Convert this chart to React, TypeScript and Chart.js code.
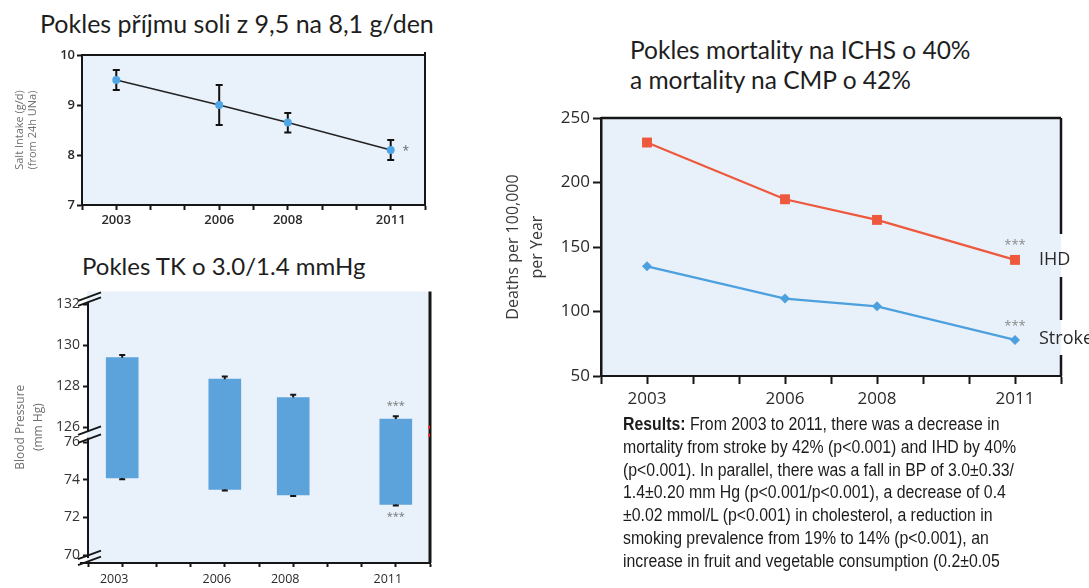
import React, { useEffect, useRef } from 'react';
import { Chart, registerables, LinearScale } from 'chart.js';

Chart.register(...registerables);

// ---------------- data ----------------
const years = [2003, 2006, 2008, 2011];
const yearTickValues = [2002, 2003, 2004, 2005, 2006, 2007, 2008, 2009, 2010, 2011, 2012];
const labelledYears = [2003, 2006, 2008, 2011];

// Salt intake (g/d)
const saltMean = [9.5, 9.0, 8.65, 8.1];
const saltUpper = [9.7, 9.4, 8.84, 8.3];
const saltLower = [9.3, 8.6, 8.45, 7.9];
const saltTicks = [7, 8, 9, 10];

// Blood pressure (mm Hg)
const systolic = [129.4, 128.35, 127.45, 126.4];
const systolicErr = [0.13, 0.13, 0.14, 0.14];
const diastolic = [74.1, 73.5, 73.2, 72.7];
const diastolicErr = [0.06, 0.06, 0.06, 0.06];
const bpTicks = [70, 72, 74, 76, 126, 128, 130, 132];

// Mortality (deaths per 100,000 per year)
const ihd = [231, 187, 171, 140];
const stroke = [135, 110, 104, 78];
const mortalityTicks = [50, 100, 150, 200, 250];

// ---------------- styles ----------------
const AXIS = '#161616';
const BG = '#e9f1fb';
const BAR_BLUE = '#5ba3da';
const DOT_BLUE = '#4ea6e6';
const IHD_RED = '#ee583c';
const STROKE_BLUE = '#4ba0dd';
const TICK_FONT = "'Open Sans', 'DejaVu Sans', sans-serif";

// ---------------- broken axis for blood pressure ----------------
const LOW_MIN = 70;
const LOW_MAX = 76;
const HIGH_MIN = 126;
const GAP = 0.8;
const HIGH_FACTOR = 1.09;
const toVirtual = (v: number) =>
  v <= (LOW_MAX + HIGH_MIN) / 2 ? v - LOW_MIN : LOW_MAX - LOW_MIN + GAP + (v - HIGH_MIN) * HIGH_FACTOR;

class BrokenLinearScale extends LinearScale {
  static id = 'brokenLinear';
  static defaults = {};
  buildTicks() {
    return bpTicks.map((value) => ({ value }));
  }
  getPixelForValue(value: number) {
    return super.getPixelForValue(toVirtual(value));
  }
}
Chart.register(BrokenLinearScale as any);

function yearAxis(fontSize: number, tickLen: number, pad: number, height: number, labelOffset = 0, weight: any = 'normal') {
  return {
    type: 'linear',
    min: 2002,
    max: 2012,
    offset: false,
    afterBuildTicks: (s: any) => {
      s.ticks = yearTickValues.map((value) => ({ value }));
    },
    afterFit: (s: any) => {
      s.height = height;
    },
    ticks: {
      autoSkip: false,
      maxRotation: 0,
      padding: pad,
      labelOffset,
      color: '#2a2a2a',
      font: { family: TICK_FONT, size: fontSize, weight },
      callback: (v: any) => (labelledYears.includes(Number(v)) ? String(v) : ''),
    },
    grid: {
      offset: false,
      drawOnChartArea: false,
      drawTicks: true,
      tickLength: tickLen,
      tickWidth: 2,
      tickColor: AXIS,
    },
    border: { display: true, color: AXIS, width: 2 },
  };
}

// ---------------- chart configs ----------------
function saltConfig(): any {
  const plugin = {
    id: 'saltDecor',
    beforeDraw(chart: any) {
      const { ctx, chartArea: a } = chart;
      ctx.save();
      ctx.fillStyle = BG;
      ctx.fillRect(a.left, a.top, a.right - a.left, a.bottom - a.top);
      ctx.restore();
    },
    beforeDatasetsDraw(chart: any) {
      const { ctx } = chart;
      const { x, y } = chart.scales;
      ctx.save();
      ctx.strokeStyle = '#111';
      ctx.lineWidth = 2;
      years.forEach((yr, i) => {
        const px = x.getPixelForValue(yr);
        const t = y.getPixelForValue(saltUpper[i]);
        const b = y.getPixelForValue(saltLower[i]);
        ctx.beginPath();
        ctx.moveTo(px, t);
        ctx.lineTo(px, b);
        ctx.moveTo(px - 3.5, t);
        ctx.lineTo(px + 3.5, t);
        ctx.moveTo(px - 3.5, b);
        ctx.lineTo(px + 3.5, b);
        ctx.stroke();
      });
      ctx.restore();
    },
    afterDraw(chart: any) {
      const { ctx, chartArea: a } = chart;
      const { x, y } = chart.scales;
      ctx.save();
      ctx.strokeStyle = AXIS;
      ctx.lineWidth = 2;
      ctx.beginPath();
      ctx.moveTo(a.left, a.top);
      ctx.lineTo(a.right, a.top);
      ctx.moveTo(a.right, a.top - 3);
      ctx.lineTo(a.right, a.bottom);
      ctx.stroke();
      ctx.fillStyle = '#666';
      ctx.font = `12px ${TICK_FONT}`;
      ctx.textAlign = 'center';
      ctx.textBaseline = 'middle';
      ctx.fillText('*', x.getPixelForValue(years[3]) + 15, y.getPixelForValue(saltMean[3]) + 2);
      ctx.restore();
    },
  };
  return {
    type: 'line',
    data: {
      datasets: [
        {
          data: years.map((yr, i) => ({ x: yr, y: saltMean[i] })),
          borderColor: '#222',
          borderWidth: 1.5,
          pointRadius: 4,
          pointBackgroundColor: DOT_BLUE,
          pointBorderWidth: 0,
        },
      ],
    },
    options: {
      responsive: false,
      animation: false,
      events: [],
      layout: { padding: { top: 15, right: 15, left: 0, bottom: 0 } },
      plugins: { legend: { display: false }, tooltip: { enabled: false } },
      scales: {
        x: yearAxis(13, 5, 2, 35, 0, '600'),
        y: {
          type: 'linear',
          min: 7,
          max: 10,
          afterBuildTicks: (s: any) => {
            s.ticks = saltTicks.map((value) => ({ value }));
          },
          afterFit: (s: any) => {
            s.width = 82;
          },
          ticks: {
            padding: 2,
            color: '#2a2a2a',
            font: { family: TICK_FONT, size: 13, weight: '600' },
            callback: (v: any) => String(v),
          },
          grid: { drawOnChartArea: false, drawTicks: true, tickLength: 5, tickWidth: 2, tickColor: AXIS },
          border: { display: true, color: AXIS, width: 2 },
          title: {
            display: true,
            text: ['Salt Intake (g/d)', '(from 24h UNa)'],
            color: '#707070',
            font: { family: TICK_FONT, size: 11, lineHeight: 1.15 },
            padding: { top: 14, bottom: 0 },
          },
        },
      },
    },
    plugins: [plugin],
  };
}

function bpConfig(): any {
  const plugin = {
    id: 'bpDecor',
    beforeDraw(chart: any) {
      const { ctx, chartArea: a } = chart;
      ctx.save();
      ctx.fillStyle = BG;
      ctx.fillRect(a.left - 1, a.top, a.right - a.left + 1, a.bottom - a.top);
      ctx.restore();
    },
    afterDatasetsDraw(chart: any) {
      const { ctx } = chart;
      const { x, y } = chart.scales;
      ctx.save();
      ctx.strokeStyle = '#151515';
      ctx.lineWidth = 2;
      years.forEach((yr, i) => {
        const px = x.getPixelForValue(yr);
        const st = y.getPixelForValue(systolic[i]);
        const se = y.getPixelForValue(systolic[i] + systolicErr[i]);
        const dt = y.getPixelForValue(diastolic[i]);
        const de = y.getPixelForValue(diastolic[i] - diastolicErr[i]);
        ctx.beginPath();
        ctx.moveTo(px, st);
        ctx.lineTo(px, se);
        ctx.moveTo(px - 3, se);
        ctx.lineTo(px + 3, se);
        ctx.moveTo(px, dt);
        ctx.lineTo(px, de);
        ctx.moveTo(px - 3, de);
        ctx.lineTo(px + 3, de);
        ctx.stroke();
      });
      // significance stars for 2011
      const last = years.length - 1;
      const pl = x.getPixelForValue(years[last]);
      ctx.fillStyle = '#777';
      ctx.font = `11px ${TICK_FONT}`;
      ctx.textAlign = 'center';
      ctx.textBaseline = 'middle';
      ctx.fillText('***', pl, y.getPixelForValue(systolic[last] + systolicErr[last]) - 10);
      ctx.fillText('***', pl, y.getPixelForValue(diastolic[last] - diastolicErr[last]) + 11);
      ctx.restore();
    },
    afterDraw(chart: any) {
      const { ctx, chartArea: a } = chart;
      const { y } = chart.scales;
      const ax = a.left;
      const topBreak = y.getPixelForValue(bpTicks[bpTicks.length - 1]) - 5;
      const midBreak = (y.getPixelForValue(HIGH_MIN) + y.getPixelForValue(LOW_MAX)) / 2;
      const botBreak = y.getPixelForValue(LOW_MIN) + 3;
      ctx.save();
      ctx.strokeStyle = AXIS;
      ctx.lineWidth = 2;
      ctx.beginPath();
      // broken y axis
      ctx.moveTo(ax, topBreak + 3);
      ctx.lineTo(ax, midBreak - 3);
      ctx.moveTo(ax, midBreak + 3);
      ctx.lineTo(ax, botBreak);
      // x axis extension to the left
      ctx.moveTo(ax - 8, a.bottom);
      ctx.lineTo(ax, a.bottom);
      ctx.stroke();
      // break marks
      ctx.lineWidth = 1.8;
      const marks: [number, number][] = [
        [topBreak - 2.5, topBreak + 2.5],
        [midBreak - 4, midBreak + 4],
        [botBreak - 3, botBreak + 3],
      ];
      ctx.beginPath();
      marks.forEach(([m1, m2]) => {
        [m1, m2].forEach((m) => {
          ctx.moveTo(ax - 10, m + 4);
          ctx.lineTo(ax + 13, m - 4.5);
        });
      });
      ctx.stroke();
      // right frame line
      ctx.lineWidth = 3;
      ctx.beginPath();
      ctx.moveTo(a.right, a.top);
      ctx.lineTo(a.right, a.bottom);
      ctx.stroke();
      ctx.strokeStyle = '#e83030';
      ctx.lineWidth = 2;
      ctx.beginPath();
      ctx.moveTo(a.right - 1, midBreak - 9);
      ctx.lineTo(a.right - 1, midBreak - 6);
      ctx.moveTo(a.right - 1, midBreak - 1);
      ctx.lineTo(a.right - 1, midBreak + 2);
      ctx.stroke();
      ctx.restore();
    },
  };
  return {
    type: 'bar',
    data: {
      datasets: [
        {
          data: years.map((yr, i) => ({ x: yr, y: [diastolic[i], systolic[i]] })),
          backgroundColor: BAR_BLUE,
          borderWidth: 0,
          barThickness: 32,
        },
      ],
    },
    options: {
      responsive: false,
      animation: false,
      events: [],
      layout: { padding: { top: 10, right: 10, left: 0, bottom: 0 } },
      plugins: { legend: { display: false }, tooltip: { enabled: false } },
      scales: {
        x: yearAxis(12.5, 4, 5, 25, -8),
        y: {
          type: 'brokenLinear',
          min: -0.42,
          max: 14.03,
          afterFit: (s: any) => {
            s.width = 88;
          },
          ticks: {
            autoSkip: false,
            padding: 3,
            color: '#333',
            font: { family: TICK_FONT, size: 14 },
            callback: (v: any) => String(v),
          },
          grid: { drawOnChartArea: false, drawTicks: true, tickLength: 5, tickWidth: 2, tickColor: AXIS },
          border: { display: false },
          title: {
            display: true,
            text: ['Blood Pressure', '(mm Hg)'],
            color: '#707070',
            font: { family: TICK_FONT, size: 12, lineHeight: 1.5 },
            padding: { top: 12, bottom: 0 },
          },
        },
      },
    },
    plugins: [plugin],
  };
}

function mortalityConfig(): any {
  const plugin = {
    id: 'mortDecor',
    beforeDraw(chart: any) {
      const { ctx, chartArea: a } = chart;
      ctx.save();
      ctx.fillStyle = '#e8f0fa';
      ctx.fillRect(a.left, a.top, a.right - a.left, a.bottom - a.top);
      ctx.restore();
    },
    afterDraw(chart: any) {
      const { ctx, chartArea: a } = chart;
      const { x, y } = chart.scales;
      const last = years.length - 1;
      const px = x.getPixelForValue(years[last]);
      const iy = y.getPixelForValue(ihd[last]);
      const sy = y.getPixelForValue(stroke[last]);
      ctx.save();
      ctx.strokeStyle = AXIS;
      ctx.lineWidth = 2.5;
      ctx.beginPath();
      ctx.moveTo(a.left, a.top);
      ctx.lineTo(a.right, a.top);
      ctx.moveTo(a.right, a.top);
      ctx.lineTo(a.right, iy - 26);
      ctx.moveTo(a.right, iy + 17);
      ctx.lineTo(a.right, sy - 20);
      ctx.moveTo(a.right, sy + 15);
      ctx.lineTo(a.right, a.bottom);
      ctx.stroke();
      ctx.fillStyle = '#2a2a2a';
      ctx.font = `18px ${TICK_FONT}`;
      ctx.textAlign = 'left';
      ctx.textBaseline = 'middle';
      ctx.fillText('IHD', px + 24, iy);
      ctx.fillText('Stroke', px + 24, sy - 1);
      ctx.fillStyle = '#8a8a8a';
      ctx.font = `13px ${TICK_FONT}`;
      ctx.textAlign = 'center';
      ctx.fillText('***', px, iy - 15);
      ctx.fillText('***', px, sy - 14);
      ctx.restore();
    },
  };
  return {
    type: 'line',
    data: {
      datasets: [
        {
          label: 'IHD',
          data: years.map((yr, i) => ({ x: yr, y: ihd[i] })),
          borderColor: IHD_RED,
          backgroundColor: IHD_RED,
          borderWidth: 2.2,
          pointStyle: 'rect',
          pointRadius: 7,
          pointBorderWidth: 0,
          pointBackgroundColor: IHD_RED,
        },
        {
          label: 'Stroke',
          data: years.map((yr, i) => ({ x: yr, y: stroke[i] })),
          borderColor: STROKE_BLUE,
          backgroundColor: STROKE_BLUE,
          borderWidth: 2.2,
          pointStyle: 'rectRot',
          pointRadius: 5,
          pointBorderWidth: 0,
          pointBackgroundColor: STROKE_BLUE,
        },
      ],
    },
    options: {
      responsive: false,
      animation: false,
      events: [],
      layout: { padding: { top: 23, right: 28, left: 0, bottom: 0 } },
      plugins: { legend: { display: false }, tooltip: { enabled: false } },
      scales: {
        x: yearAxis(17, 8, 5, 39),
        y: {
          type: 'linear',
          min: 50,
          max: 250,
          afterBuildTicks: (s: any) => {
            s.ticks = mortalityTicks.map((value) => ({ value }));
          },
          afterFit: (s: any) => {
            s.width = 101;
          },
          ticks: {
            padding: 3,
            color: '#2a2a2a',
            font: { family: TICK_FONT, size: 17 },
            callback: (v: any) => String(v),
          },
          grid: { drawOnChartArea: false, drawTicks: true, tickLength: 8, tickWidth: 2, tickColor: AXIS },
          border: { display: true, color: AXIS, width: 2.5 },
          title: {
            display: true,
            text: ['Deaths per 100,000', 'per Year'],
            color: '#3a3a3a',
            font: { family: TICK_FONT, size: 16, lineHeight: 1.5 },
            padding: { top: 1, bottom: 0 },
          },
        },
      },
    },
    plugins: [plugin],
  };
}

// ---------------- components ----------------
function ChartBox({ left, top, width, height, make }: { left: number; top: number; width: number; height: number; make: () => any }) {
  const ref = useRef<HTMLCanvasElement>(null);
  useEffect(() => {
    const chart = new Chart(ref.current as HTMLCanvasElement, make());
    return () => chart.destroy();
  }, []);
  return (
    <canvas
      ref={ref}
      width={width}
      height={height}
      style={{ position: 'absolute', left, top, width, height, display: 'block' }}
    />
  );
}

const titleStyle: React.CSSProperties = {
  position: 'absolute',
  fontFamily: "Lato, 'Open Sans', sans-serif",
  color: '#1e1e1e',
  whiteSpace: 'nowrap',
  margin: 0,
};

export default function App() {
  return (
    <div
      style={{
        position: 'fixed',
        left: 0,
        top: 0,
        width: 1089,
        height: 588,
        background: '#ffffff',
        overflow: 'hidden',
      }}
    >
      <div style={{ ...titleStyle, left: 40, top: 8, fontSize: 25, lineHeight: '30px' }}>
        Pokles příjmu soli z 9,5 na 8,1 g/den
      </div>
      <div style={{ ...titleStyle, left: 82, top: 251, fontSize: 24, lineHeight: '30px' }}>
        Pokles TK o 3.0/1.4 mmHg
      </div>
      <div style={{ ...titleStyle, left: 630, top: 34.5, fontSize: 24.5, lineHeight: '30.7px' }}>
        Pokles mortality na ICHS o 40%
        <br />a mortality na CMP o 42%
      </div>

      <ChartBox left={0} top={40} width={440} height={200} make={saltConfig} />
      <ChartBox left={0} top={280} width={440} height={308} make={bpConfig} />
      <ChartBox left={500} top={95} width={589} height={320} make={mortalityConfig} />

      <div
        style={{
          position: 'absolute',
          left: 623,
          top: 413,
          fontFamily: "'Liberation Sans', Arial, sans-serif",
          fontSize: 17.5,
          lineHeight: '22.8px',
          color: '#1c1c1c',
          whiteSpace: 'nowrap',
          transform: 'scaleX(0.905)',
          transformOrigin: 'left top',
        }}
      >
        <b>Results:</b> From 2003 to 2011, there was a decrease in
        <br />
        mortality from stroke by 42% (p&lt;0.001) and IHD by 40%
        <br />
        (p&lt;0.001). In parallel, there was a fall in BP of 3.0±0.33/
        <br />
        1.4±0.20 mm Hg (p&lt;0.001/p&lt;0.001), a decrease of 0.4
        <br />
        ±0.02 mmol/L (p&lt;0.001) in cholesterol, a reduction in
        <br />
        smoking prevalence from 19% to 14% (p&lt;0.001), an
        <br />
        increase in fruit and vegetable consumption (0.2±0.05
      </div>
    </div>
  );
}
